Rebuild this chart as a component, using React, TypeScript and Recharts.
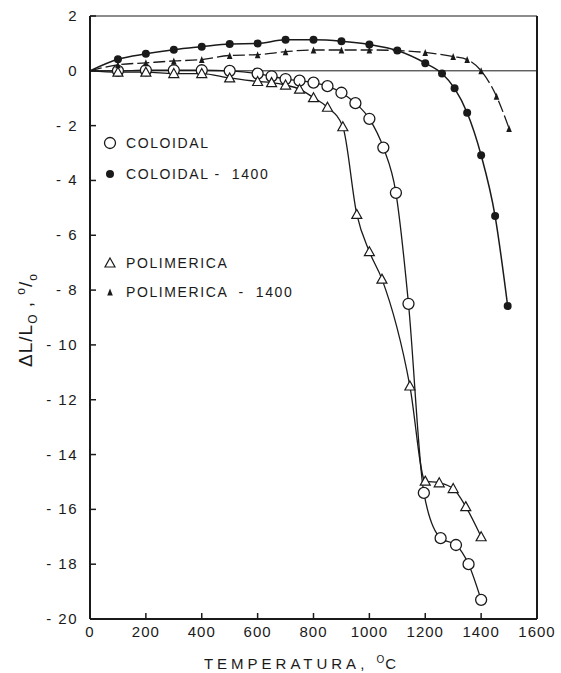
import React from 'react';
import { LineChart, Line, XAxis, YAxis, ReferenceLine } from 'recharts';

// COLOIDAL (open circles)
const coloidalT = [0, 100, 200, 300, 400, 500, 600, 650, 700, 750, 800, 850, 900, 950, 1000, 1050, 1095, 1140, 1195, 1255, 1310, 1355, 1400];
const coloidalV = [0, 0, 0.02, 0.02, 0.02, 0, -0.1, -0.2, -0.3, -0.36, -0.43, -0.56, -0.8, -1.18, -1.75, -2.8, -4.45, -8.5, -15.4, -17.05, -17.3, -18.0, -19.3];

// COLOIDAL - 1400 (filled circles)
const coloidal1400T = [0, 100, 200, 300, 400, 500, 600, 700, 800, 900, 1000, 1100, 1200, 1260, 1305, 1350, 1400, 1450, 1495];
const coloidal1400V = [0, 0.42, 0.62, 0.77, 0.88, 0.98, 1.0, 1.13, 1.13, 1.08, 0.96, 0.74, 0.28, -0.1, -0.64, -1.53, -3.08, -5.3, -8.58];

// POLIMERICA (open triangles)
const polimericaT = [0, 100, 200, 300, 400, 500, 600, 650, 700, 750, 800, 850, 905, 955, 1000, 1045, 1145, 1200, 1250, 1300, 1345, 1400];
const polimericaV = [0, -0.05, -0.05, -0.1, -0.1, -0.26, -0.39, -0.43, -0.52, -0.67, -0.98, -1.33, -2.04, -5.24, -6.6, -7.6, -11.5, -14.97, -15.03, -15.24, -15.9, -17.0];

// POLIMERICA - 1400 (filled triangles)
const polimerica1400T = [0, 100, 200, 300, 400, 500, 600, 700, 800, 900, 1000, 1100, 1200, 1300, 1350, 1400, 1455, 1500];
const polimerica1400V = [0, 0.22, 0.29, 0.36, 0.41, 0.56, 0.59, 0.7, 0.76, 0.76, 0.76, 0.74, 0.67, 0.52, 0.41, 0.0, -0.93, -2.1];

const xTicks = [0, 200, 400, 600, 800, 1000, 1200, 1400, 1600];
const yTicks = [2, 0, -2, -4, -6, -8, -10, -12, -14, -16, -18, -20];

const toRows = (t: number[], v: number[]) => t.map((x, i) => ({ x, y: v[i] }));

const FONT = '"Liberation Sans", Arial, sans-serif';
const INK = '#1a1a1a';

type Marker = 'openCircle' | 'filledCircle' | 'openTri' | 'filledTri';

function drawMarker(kind: Marker, cx: number, cy: number, key?: string) {
  if (kind === 'openCircle') return <circle key={key} cx={cx} cy={cy} r={5.5} fill="#fff" stroke={INK} strokeWidth={1.3} />;
  if (kind === 'filledCircle') return <circle key={key} cx={cx} cy={cy} r={4} fill={INK} />;
  if (kind === 'openTri') {
    const s = 5;
    return <path key={key} d={`M${cx},${cy - s} L${cx + s},${cy + s * 0.8} L${cx - s},${cy + s * 0.8} Z`} fill="#fff" stroke={INK} strokeWidth={1.2} />;
  }
  const s = 3.5;
  return <path key={key} d={`M${cx},${cy - s} L${cx + s * 0.8},${cy + s} L${cx - s * 0.8},${cy + s} Z`} fill={INK} />;
}

const dotFor = (kind: Marker) => (props: any) => {
  const { cx, cy, index, payload } = props;
  if (payload.x === 0 || cx == null) return <g key={`e-${kind}-${index}`} />;
  return drawMarker(kind, cx, cy, `d-${kind}-${index}`);
};

const YTick = (props: any) => {
  const { x, y, payload } = props;
  const v = payload.value;
  const label = v < 0 ? `- ${Math.abs(v)}` : `${v}`;
  return (
    <g>
      <line x1={x + 12} x2={x + 18} y1={y} y2={y} stroke={INK} strokeWidth={1.5} />
      <text x={x} y={y} dy={5} textAnchor="end" fontFamily={FONT} fontSize={15} fill={INK} letterSpacing={1.5}>{label}</text>
    </g>
  );
};

const XTick = (props: any) => {
  const { x, y, payload } = props;
  return (
    <g>
      {payload.value !== 0 && payload.value !== 1600 && (
        <line x1={x} x2={x} y1={y - 7} y2={y - 13} stroke={INK} strokeWidth={1.5} />
      )}
      <text x={x} y={y} dy={11} textAnchor="middle" fontFamily={FONT} fontSize={15} fill={INK} letterSpacing={1}>{payload.value}</text>
    </g>
  );
};

const legendItems: { kind: Marker; label: string; top: number }[] = [
  { kind: 'openCircle', label: 'COLOIDAL', top: 143 },
  { kind: 'filledCircle', label: 'COLOIDAL -  1400', top: 174 },
  { kind: 'openTri', label: 'POLIMERICA', top: 263 },
  { kind: 'filledTri', label: 'POLIMERICA  -  1400', top: 292 },
];

export default function App() {
  return (
    <div style={{ position: 'absolute', left: 0, top: 0, width: 561, height: 673, background: '#fff' }}>
      <LineChart width={561} height={673} margin={{ top: 16, right: 24, left: 0, bottom: 0 }}>
        <XAxis
          type="number"
          dataKey="x"
          domain={[0, 1600]}
          ticks={xTicks}
          allowDataOverflow
          height={54}
          tickSize={0}
          tickMargin={7}
          tick={<XTick />}
          axisLine={{ stroke: INK, strokeWidth: 2 }}
        />
        <YAxis
          type="number"
          dataKey="y"
          domain={[-20, 2]}
          ticks={yTicks}
          allowDataOverflow
          width={90}
          tickSize={0}
          tickMargin={12}
          tick={<YTick />}
          axisLine={{ stroke: INK, strokeWidth: 2 }}
        />
        <ReferenceLine y={2} stroke={INK} strokeWidth={1.2} />
        <ReferenceLine x={1600} stroke={INK} strokeWidth={2} />
        <ReferenceLine y={0} stroke={INK} strokeWidth={1} />
        <Line data={toRows(coloidalT, coloidalV)} dataKey="y" type="monotone" stroke={INK} strokeWidth={1.3} dot={dotFor('openCircle')} isAnimationActive={false} />
        <Line data={toRows(polimericaT, polimericaV)} dataKey="y" type="monotone" stroke={INK} strokeWidth={1.3} dot={dotFor('openTri')} isAnimationActive={false} />
        <Line data={toRows(polimerica1400T, polimerica1400V)} dataKey="y" type="monotone" stroke={INK} strokeWidth={1.3} strokeDasharray="12 4" dot={dotFor('filledTri')} isAnimationActive={false} />
        <Line data={toRows(coloidal1400T, coloidal1400V)} dataKey="y" type="monotone" stroke={INK} strokeWidth={1.5} dot={dotFor('filledCircle')} isAnimationActive={false} />
      </LineChart>

      {legendItems.map((it) => (
        <div key={it.label} style={{ position: 'absolute', left: 100, top: it.top - 10, height: 20, display: 'flex', alignItems: 'center' }}>
          <svg width={20} height={20}>{drawMarker(it.kind, 10, 10)}</svg>
          <span style={{ marginLeft: 6, fontFamily: FONT, fontSize: 14, letterSpacing: 1.6, color: INK, whiteSpace: 'pre' }}>{it.label}</span>
        </div>
      ))}

      <div style={{ position: 'absolute', left: 27, top: 320, transform: 'translate(-50%, -50%) rotate(-90deg)', fontFamily: FONT, fontSize: 19, color: INK, whiteSpace: 'nowrap', letterSpacing: 1 }}>
        ΔL/L<sub style={{ fontSize: 12 }}>O</sub> , <sup style={{ fontSize: 12 }}>o</sup>/<sub style={{ fontSize: 12 }}>o</sub>
      </div>

      <div style={{ position: 'absolute', left: 302, top: 663, transform: 'translate(-50%, -50%)', fontFamily: FONT, fontSize: 15, color: INK, whiteSpace: 'nowrap', letterSpacing: 4 }}>
        TEMPERATURA, <sup style={{ fontSize: 10, letterSpacing: 1 }}>O</sup>C
      </div>
    </div>
  );
}
